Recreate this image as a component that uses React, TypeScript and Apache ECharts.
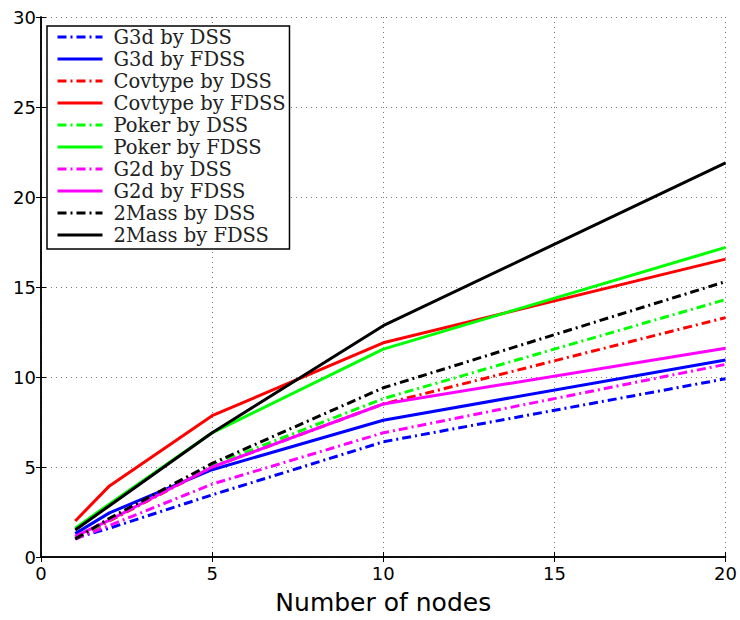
import React, { useEffect, useRef } from "react";
import * as echarts from "echarts";

const nodes = [1, 2, 5, 10, 20];
const g3dDSS = [1.05, 1.6, 3.45, 6.4, 9.9];
const g3dFDSS = [1.3, 2.45, 4.85, 7.6, 10.95];
const covDSS = [1.05, 2.0, 5.0, 8.5, 13.3];
const covFDSS = [2.0, 3.95, 7.85, 11.9, 16.55];
const pokerDSS = [1.05, 2.05, 5.1, 8.8, 14.3];
const pokerFDSS = [1.6, 2.95, 6.9, 11.55, 17.2];
const g2dDSS = [1.0, 1.75, 4.05, 6.9, 10.7];
const g2dFDSS = [1.15, 2.05, 5.0, 8.5, 11.6];
const massDSS = [1.0, 2.15, 5.2, 9.4, 15.3];
const massFDSS = [1.5, 2.85, 6.9, 12.85, 21.9];

const seriesDefs = [
  { name: "G3d by DSS", data: g3dDSS, color: "#0000ff", dash: true },
  { name: "G3d by FDSS", data: g3dFDSS, color: "#0000ff", dash: false },
  { name: "Covtype by DSS", data: covDSS, color: "#ff0000", dash: true },
  { name: "Covtype by FDSS", data: covFDSS, color: "#ff0000", dash: false },
  { name: "Poker by DSS", data: pokerDSS, color: "#00ff00", dash: true },
  { name: "Poker by FDSS", data: pokerFDSS, color: "#00ff00", dash: false },
  { name: "G2d by DSS", data: g2dDSS, color: "#ff00ff", dash: true },
  { name: "G2d by FDSS", data: g2dFDSS, color: "#ff00ff", dash: false },
  { name: "2Mass by DSS", data: massDSS, color: "#000000", dash: true },
  { name: "2Mass by FDSS", data: massFDSS, color: "#000000", dash: false },
];

export default function App() {
  const ref = useRef<HTMLDivElement>(null);
  useEffect(() => {
    if (!ref.current) return;
    const chart = echarts.init(ref.current, null, { renderer: "svg" });
    const axisFont = { fontFamily: "DejaVu Sans", fontSize: 18, color: "#000" };
    const hiddenAxisCommon = {
      axisLine: { show: true, lineStyle: { color: "#000", width: 1.5 } },
      axisTick: { show: true, inside: true, length: 5, lineStyle: { color: "#000" } },
      axisLabel: { show: false },
      splitLine: { show: false },
    };
    chart.setOption({
      animation: false,
      backgroundColor: "#fff",
      grid: { left: 41, right: 12, top: 17, bottom: 61 },
      legend: {
        orient: "vertical",
        left: 47,
        top: 26,
        padding: [1, 4, 4, 9],
        itemGap: 2,
        itemWidth: 45,
        itemHeight: 14,
        backgroundColor: "#fff",
        borderColor: "#000",
        borderWidth: 1.5,
        borderRadius: 0,
        itemStyle: { opacity: 0 },
        lineStyle: { width: 3 },
        textStyle: {
          fontFamily: "DejaVu Serif",
          fontSize: 19.5,
          color: "#222",
          lineHeight: 19,
          padding: [0, 0, 0, 6],
        },
        data: seriesDefs.map((s) => s.name),
      },
      xAxis: [
        {
          type: "value",
          min: 0,
          max: 20,
          interval: 5,
          name: "Number of nodes",
          nameLocation: "middle",
          nameGap: 33,
          nameTextStyle: { fontFamily: "DejaVu Sans", fontSize: 25, color: "#000" },
          axisLine: { show: true, onZero: false, lineStyle: { color: "#000", width: 1.5 } },
          axisTick: { show: true, inside: true, length: 5, lineStyle: { color: "#000" } },
          axisLabel: { ...axisFont, margin: 7 },
          splitLine: { show: true, lineStyle: { color: "#777", type: [1, 4], width: 1 } },
        },
        { type: "value", position: "top", min: 0, max: 20, interval: 5, ...hiddenAxisCommon },
      ],
      yAxis: [
        {
          type: "value",
          min: 0,
          max: 30,
          interval: 5,
          axisLine: { show: true, onZero: false, lineStyle: { color: "#000", width: 1.5 } },
          axisTick: { show: true, inside: true, length: 5, lineStyle: { color: "#000" } },
          axisLabel: { ...axisFont, margin: 5 },
          splitLine: { show: true, lineStyle: { color: "#777", type: [1, 4], width: 1 } },
        },
        { type: "value", position: "right", min: 0, max: 30, interval: 5, ...hiddenAxisCommon },
      ],
      series: seriesDefs.map((s) => ({
        name: s.name,
        type: "line",
        symbol: "none",
        color: s.color,
        xAxisIndex: 0,
        yAxisIndex: 0,
        data: nodes.map((n, i) => [n, s.data[i]]),
        lineStyle: {
          color: s.color,
          width: 3,
          type: s.dash ? [9, 4, 2, 4] : "solid",
        },
      })),
    });
    return () => chart.dispose();
  }, []);
  return (
    <div
      ref={ref}
      style={{ position: "fixed", left: 0, top: 0, width: 740, height: 620 }}
    />
  );
}
